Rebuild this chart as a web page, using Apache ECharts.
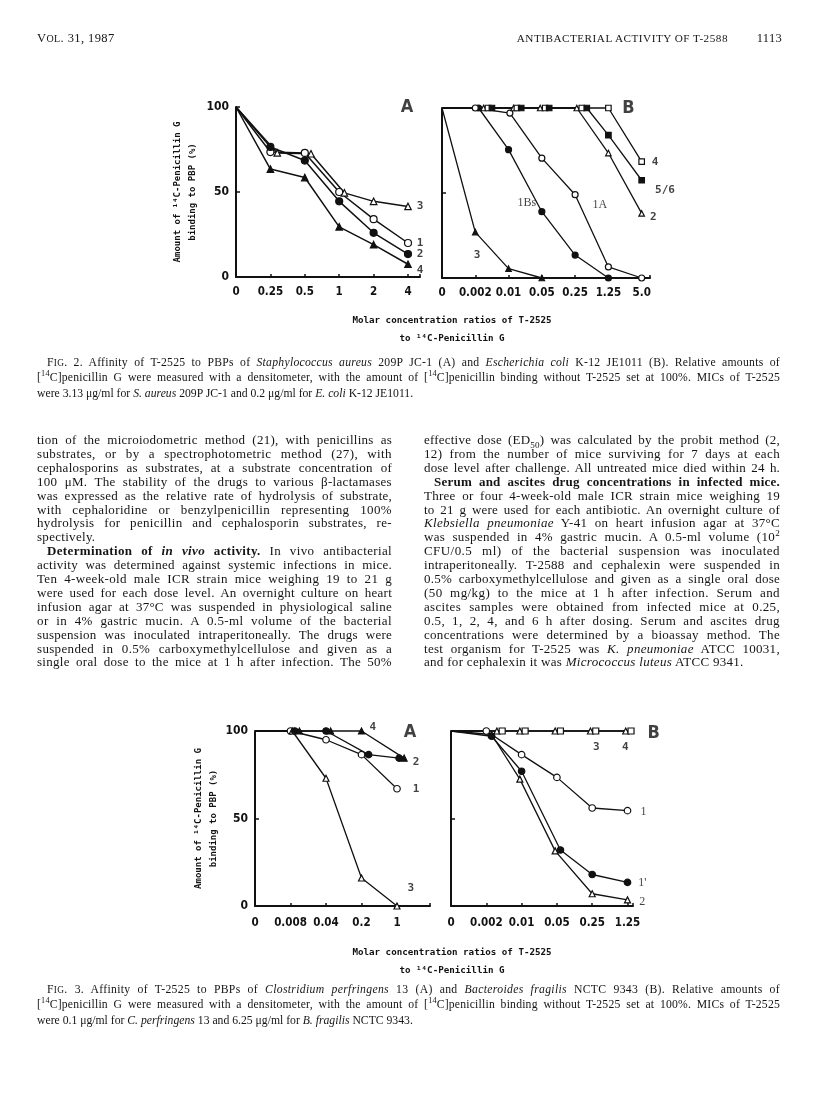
<!DOCTYPE html>
<html><head><meta charset="utf-8">
<script src="https://cdn.jsdelivr.net/npm/echarts@6/dist/echarts.min.js"></script>
<style>
html,body{margin:0;padding:0;background:#fff;}
#page{position:relative;width:816px;height:1096px;overflow:hidden;background:#fff;}
#chart{position:absolute;left:0;top:0;width:816px;height:1096px;}
.t{position:absolute;font-family:'Liberation Serif','Times New Roman',serif;color:#151515;white-space:nowrap;}
.t sup,.t sub{font-size:70%;line-height:0;}
</style></head>
<body><div id="page"><div id="chart"></div></div>
<script>
// ---------------- DATA ----------------
const fig2aTicks = ['0','0.25','0.5','1','2','4'];
const fig2bTicks = ['0','0.002','0.01','0.05','0.25','1.25','5.0'];
const fig3aTicks = ['0','0.008','0.04','0.2','1'];
const fig3bTicks = ['0','0.002','0.01','0.05','0.25','1.25'];
const yTicks = ['0','50','100'];

// Fig. 2 A  [tick index, % binding]
const fig2a_1 = [[0,100],[1,73.5],[2,73],[3,50],[4,34],[5,20]];          // open circle
const fig2a_2 = [[0,100],[1,76.5],[2,68.5],[3,44.5],[4,26],[5,13.5]];    // filled circle
const fig2a_3 = [[0,100],[1.2,73],[2.18,72.5],[3.15,49.5],[4,44.5],[5,41.5]]; // open triangle
const fig2a_4 = [[0,100],[1,63.5],[2,58.5],[3,29.5],[4,19],[5,7.5]];     // filled triangle
const fig2aLabels = [['3',5.35,41.4],['1',5.35,19.8],['2',5.35,13.5],['4',5.35,4.1],['A',4.97,100]];

// Fig. 2 B
const fig2b_3   = [[0,100],[1,27],[2,5.5],[3,0]];
const fig2b_1Bs = [[0,100],[1.1,100],[2,75.5],[3,39],[4,13.5],[5,0]];
const fig2b_1A  = [[0,100],[1,100],[2.04,97],[3,70.5],[4,49],[5,6.5],[6,0]];
const fig2b_2   = [[0,100],[1.25,100],[2.15,100],[2.95,100],[4.05,100],[5,73.5],[6,38]];
const fig2b_4   = [[0,100],[1.38,100],[2.25,100],[3.1,100],[4.2,100],[5,100],[6,68.5]];
const fig2b_56  = [[0,100],[1.5,100],[2.38,100],[3.22,100],[4.35,100],[5,84],[6,57.5]];
const fig2bLabels = [['4',6.4,68.2],['5/6',6.7,51.8],['2',6.35,35.9],['1Bs',2.55,44],['1A',4.74,43],['3',1.05,13.5],['B',5.6,100]];

// Fig. 3 A
const fig3a_1 = [[0,100],[1,100],[2,95],[3,86.5],[4,67]];
const fig3a_2 = [[0,100],[1.12,100],[2,100],[3.2,86.5],[4.06,84.5]];
const fig3a_3 = [[0,100],[1.05,100],[2,73],[3,16],[4,0]];
const fig3a_4 = [[0,100],[1.25,100],[2.13,100],[3,100],[4.2,84.5]];
const fig3aLabels = [['4',3.32,102.4],['A',4.37,99.5],['2',4.54,82.1],['1',4.54,66.7],['3',4.39,10]];

// Fig. 3 B
const fig3b_3  = [[0,100],[1.3,100],[1.95,100],[2.95,100],[3.95,100],[4.95,100]];
const fig3b_4  = [[0,100],[1.45,100],[2.1,100],[3.1,100],[4.1,100],[5.1,100]];
const fig3b_1  = [[0,100],[1,100],[2,86.5],[3,73.5],[4,56],[5,54.5]];
const fig3b_1p = [[0,100],[1.15,97],[2,77],[3.1,32],[4,18],[5,13.5]];
const fig3b_2  = [[0,100],[1.15,98],[1.95,72.5],[2.95,31.5],[4,7],[5,3.5]];
const fig3bLabels = [['3',4.12,91],['4',4.94,91],['B',5.74,98.9],['1',5.45,53.7],["1'",5.42,13.3],['2',5.42,2.4]];

const xTitle1 = 'Molar concentration ratios of T-2525';
const xTitle2 = 'to ¹⁴C-Penicillin G';
const yTitle = 'Amount of ¹⁴C-Penicillin G\nbinding to PBP (%)';

// ---------------- TEXT ----------------
const header = ['V<span style="font-size:80%">OL</span>. 31, 1987', 'ANTIBACTERIAL ACTIVITY OF T-2588', '1113'];
const cap2 = [
 'F<span style="font-size:80%">IG</span>. 2. Affinity of T-2525 to PBPs of <i>Staphylococcus aureus</i> 209P JC-1 (A) and <i>Escherichia coli</i> K-12 JE1011 (B). Relative amounts of',
 '[<sup>14</sup>C]penicillin G were measured with a densitometer, with the amount of [<sup>14</sup>C]penicillin binding without T-2525 set at 100%. MICs of T-2525',
 'were 3.13 μg/ml for <i>S. aureus</i> 209P JC-1 and 0.2 μg/ml for <i>E. coli</i> K-12 JE1011.'
];
const cap3 = [
 'F<span style="font-size:80%">IG</span>. 3. Affinity of T-2525 to PBPs of <i>Clostridium perfringens</i> 13 (A) and <i>Bacteroides fragilis</i> NCTC 9343 (B). Relative amounts of',
 '[<sup>14</sup>C]penicillin G were measured with a densitometer, with the amount of [<sup>14</sup>C]penicillin binding without T-2525 set at 100%. MICs of T-2525',
 'were 0.1 μg/ml for <i>C. perfringens</i> 13 and 6.25 μg/ml for <i>B. fragilis</i> NCTC 9343.'
];
const bodyLeft = [
 'tion of the microiodometric method (21), with penicillins as',
 'substrates, or by a spectrophotometric method (27), with',
 'cephalosporins as substrates, at a substrate concentration of',
 '100 μM. The stability of the drugs to various β-lactamases',
 'was expressed as the relative rate of hydrolysis of substrate,',
 'with cephaloridine or benzylpenicillin representing 100%',
 'hydrolysis for penicillin and cephalosporin substrates, re-',
 'spectively.',
 '<b>Determination of <i>in vivo</i> activity.</b> In vivo antibacterial',
 'activity was determined against systemic infections in mice.',
 'Ten 4-week-old male ICR strain mice weighing 19 to 21 g',
 'were used for each dose level. An overnight culture on heart',
 'infusion agar at 37°C was suspended in physiological saline',
 'or in 4% gastric mucin. A 0.5-ml volume of the bacterial',
 'suspension was inoculated intraperitoneally. The drugs were',
 'suspended in 0.5% carboxymethylcellulose and given as a',
 'single oral dose to the mice at 1 h after infection. The 50%'
];
const bodyRight = [
 'effective dose (ED<sub>50</sub>) was calculated by the probit method (2,',
 '12) from the number of mice surviving for 7 days at each',
 'dose level after challenge. All untreated mice died within 24 h.',
 '<b>Serum and ascites drug concentrations in infected mice.</b>',
 'Three or four 4-week-old male ICR strain mice weighing 19',
 'to 21 g were used for each antibiotic. An overnight culture of',
 '<i>Klebsiella pneumoniae</i> Y-41 on heart infusion agar at 37°C',
 'was suspended in 4% gastric mucin. A 0.5-ml volume (10<sup>2</sup>',
 'CFU/0.5 ml) of the bacterial suspension was inoculated',
 'intraperitoneally. T-2588 and cephalexin were suspended in',
 '0.5% carboxymethylcellulose and given as a single oral dose',
 '(50 mg/kg) to the mice at 1 h after infection. Serum and',
 'ascites samples were obtained from infected mice at 0.25,',
 '0.5, 1, 2, 4, and 6 h after dosing. Serum and ascites drug',
 'concentrations were determined by a bioassay method. The',
 'test organism for T-2525 was <i>K. pneumoniae</i> ATCC 10031,',
 'and for cephalexin it was <i>Micrococcus luteus</i> ATCC 9341.'
];

// ---------------- TEXT LAYOUT ----------------
const page = document.getElementById('page');
function line(html, x, yc, w, fs, lh, justify, align, ls) {
  const d = document.createElement('div');
  d.className = 't';
  d.style.fontSize = fs + 'px';
  d.style.lineHeight = lh + 'px';
  d.style.top = (yc - lh / 2) + 'px';
  if (ls) d.style.letterSpacing = ls + 'px';
  d.innerHTML = html;
  page.appendChild(d);
  const nat = d.getBoundingClientRect().width;
  if (align === 'right') { d.style.left = (x - nat) + 'px'; return; }
  d.style.left = x + 'px';
  if (justify) {
    const txt = d.textContent;
    const n = (txt.match(/ /g) || []).length;
    const extra = w - nat;
    const lsp = (ls || 0) + extra * 0.35 / txt.length;
    d.style.letterSpacing = lsp + 'px';
    const nat2 = d.getBoundingClientRect().width;
    if (n > 0) d.style.wordSpacing = ((w - nat2) / n) + 'px';
  }
}
line(header[0], 37, 38, 0, 12.5, 14, false, null, 0.4);
line(header[1], 728, 38, 0, 11.2, 14, false, 'right', 0.5);
line(header[2], 782, 38, 0, 12.5, 14, false, 'right', 0.3);

const capFs = 11.7, capLh = 15;
cap2.forEach((s, i) => line(s, i === 0 ? 47 : 37, 362 + i * 15.5, i === 0 ? 733 : 743, capFs, capLh, i < 2));
cap3.forEach((s, i) => line(s, i === 0 ? 47 : 37, 989 + i * 15.5, i === 0 ? 733 : 743, capFs, capLh, i < 2));

const bodyFs = 13, bodyLh = 13.9;
bodyLeft.forEach((s, i) => {
  const ind = i === 8 ? 10 : 0;
  line(s, 37 + ind, 440 + i * bodyLh, 355 - ind, bodyFs, bodyLh, i !== 7, null, i === 7 ? 0.3 : 0);
});
bodyRight.forEach((s, i) => {
  const ind = i === 3 ? 10 : 0;
  line(s, 424 + ind, 440 + i * bodyLh, 356 - ind, bodyFs, bodyLh, i !== 16, null, i === 16 ? 0.3 : 0);
});

// ---------------- CHART ----------------
const MONO = "'DejaVu Sans Mono', monospace";
const COND = "'DejaVu Sans Condensed', 'Liberation Sans Narrow', 'DejaVu Sans', sans-serif";
const SERIF = "'Liberation Serif', serif";
const INK = '#111';

const grids = [
  {left: 236, top: 107, width: 184, height: 170, outerBoundsMode: 'none'},
  {left: 442, top: 108, width: 208, height: 170, outerBoundsMode: 'none'},
  {left: 255, top: 731, width: 175, height: 175, outerBoundsMode: 'none'},
  {left: 451, top: 731, width: 182, height: 175, outerBoundsMode: 'none'}
];
const xMax = [184 / 34.4, 208 / 33.28, 175 / 35.5, 182 / 35.3];
const tickSets = [fig2aTicks, fig2bTicks, fig3aTicks, fig3bTicks];
const labelMargins = [9, 9, 11, 11];

const xAxes = tickSets.map((ticks, g) => ({
  type: 'value', gridIndex: g, min: 0, max: xMax[g], interval: 1,
  axisLine: {show: true, onZero: false, lineStyle: {color: INK, width: 2}},
  axisTick: {show: true, inside: true, length: 3, lineStyle: {color: INK, width: 1.5}},
  axisLabel: {show: true, margin: labelMargins[g], color: INK, fontFamily: COND, fontWeight: 'bold', fontSize: 11.5,
    showMinLabel: true, showMaxLabel: true,
    formatter: v => (Math.abs(v - Math.round(v)) < 1e-6 ? (ticks[Math.round(v)] || '') : '')},
  splitLine: {show: false}
}));
const yNameGap = [35.5, 0, 33.5, 0];
const yAxes = [0, 1, 2, 3].map(g => ({
  type: 'value', gridIndex: g, min: 0, max: 100, interval: 50,
  axisLine: {show: true, onZero: false, lineStyle: {color: INK, width: 2}},
  axisTick: {show: true, inside: true, length: 4, lineStyle: {color: INK, width: 1.5}},
  axisLabel: {show: g % 2 === 0, margin: 7, color: INK, fontFamily: COND, fontWeight: 'bold', fontSize: 12,
    formatter: v => yTicks[Math.round(v / 50)] || ''},
  splitLine: {show: false},
  name: g % 2 === 0 ? yTitle : '', nameLocation: 'middle', nameRotate: 90, nameGap: yNameGap[g],
  nameTextStyle: {fontFamily: MONO, fontWeight: 'bold', fontSize: 9, color: INK, lineHeight: 15}
}));

const MK = {
  oc: ['circle', '#fff'], fc: ['circle', INK],
  ot: ['triangle', '#fff'], ft: ['triangle', INK],
  os: ['rect', '#fff'], fs: ['rect', INK]
};
const sizes = [{circle: 7, triangle: 6.5, rect: 6}, {circle: 6, triangle: 5.5, rect: 5.5},
               {circle: 6.5, triangle: 6, rect: 6}, {circle: 6.5, triangle: 6, rect: 6}];
function ser(g, data, mk) {
  const [sym, fill] = MK[mk];
  return {
    type: 'line', xAxisIndex: g, yAxisIndex: g, clip: false, animation: false, silent: true,
    symbol: sym, symbolSize: sizes[g][sym], showSymbol: true,
    data: data.map((p, i) => i === 0 ? {value: p, symbol: 'none'} : {value: p}),
    lineStyle: {color: INK, width: g === 0 ? 1.5 : 1.3},
    itemStyle: {color: fill, borderColor: INK, borderWidth: 1.2}
  };
}
const serifNames = new Set(['1Bs', '1A', "1'"]);
function labels(g, arr) {
  return {
    type: 'scatter', xAxisIndex: g, yAxisIndex: g, clip: false, animation: false, silent: true,
    symbolSize: 0, z: 10,
    data: arr.map(l => {
      const big = (l[0] === 'A' || l[0] === 'B');
      return {
        name: l[0], value: [l[1], l[2]],
        label: big ? {fontFamily: COND, fontSize: 18, fontWeight: 'bold'}
             : serifNames.has(l[0]) || (g === 3 && l[1] > 5.3) ? {fontFamily: SERIF, fontSize: 12, fontWeight: 'normal'}
             : {fontFamily: MONO, fontSize: 11, fontWeight: 'bold'}
      };
    }),
    label: {show: true, position: 'inside', color: INK, formatter: p => p.name}
  };
}

const series = [
  ser(0, fig2a_3, 'ot'), ser(0, fig2a_1, 'oc'), ser(0, fig2a_2, 'fc'), ser(0, fig2a_4, 'ft'),
  ser(1, fig2b_3, 'ft'), ser(1, fig2b_1Bs, 'fc'), ser(1, fig2b_1A, 'oc'), ser(1, fig2b_2, 'ot'), ser(1, fig2b_4, 'os'), ser(1, fig2b_56, 'fs'),
  ser(2, fig3a_1, 'oc'), ser(2, fig3a_3, 'ot'), ser(2, fig3a_2, 'fc'), ser(2, fig3a_4, 'ft'),
  ser(3, fig3b_2, 'ot'), ser(3, fig3b_1p, 'fc'), ser(3, fig3b_1, 'oc'), ser(3, fig3b_3, 'ot'), ser(3, fig3b_4, 'os'),
  labels(0, fig2aLabels), labels(1, fig2bLabels), labels(2, fig3aLabels), labels(3, fig3bLabels)
];

function title(x, y, text) {
  return {type: 'text', x: x, y: y, silent: true,
    style: {text: text, fill: INK, fontFamily: MONO, fontWeight: 'bold', fontSize: 9.2,
      align: 'center', verticalAlign: 'middle', textAlign: 'center', textVerticalAlign: 'middle'}};
}

const chart = echarts.init(document.getElementById('chart'), null, {renderer: 'canvas', width: 816, height: 1096});
chart.setOption({
  animation: false,
  backgroundColor: 'transparent',
  grid: grids,
  xAxis: xAxes,
  yAxis: yAxes,
  series: series,
  graphic: [
    title(452, 321, xTitle1), title(452, 339, xTitle2),
    title(452, 953, xTitle1), title(452, 971, xTitle2)
  ]
});
</script>
</body></html>
